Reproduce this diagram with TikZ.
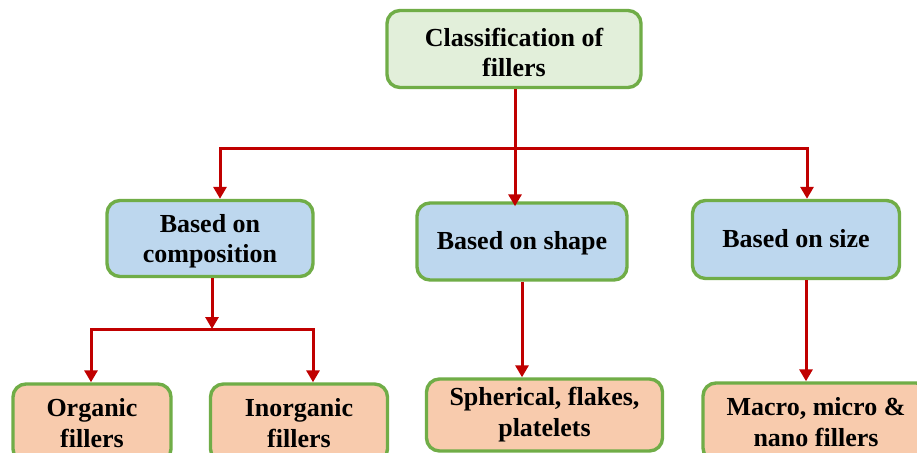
\documentclass[tikz,border=0pt]{standalone}
\usepackage{fontspec}
\setmainfont{Liberation Serif}
\usetikzlibrary{arrows.meta}

\definecolor{boxline}{HTML}{70AD47}
\definecolor{rootfill}{HTML}{E2EFDA}
\definecolor{midfill}{HTML}{BDD7EE}
\definecolor{leaffill}{HTML}{F8CBAD}
\definecolor{linkred}{HTML}{C00000}

% text block lowered inside its box without changing the box size
\newcommand{\droptext}[2]{\raisebox{-#1}[\height][\depth]{\begin{tabular}{@{}c@{}}#2\end{tabular}}}

\tikzset{
  box/.style={draw=boxline, line width=3.4pt, rounded corners=13pt,
    align=center, inner sep=0pt,
    font=\fontsize{26}{31}\selectfont\bfseries},
  rootbox/.style={box, fill=rootfill},
  midbox/.style={box, fill=midfill},
  leafbox/.style={box, fill=leaffill},
  link/.style={draw=linkred, line width=3pt},
  arr/.style={link, -{Triangle[length=12pt,width=13pt]}}
}

\begin{document}
\begin{tikzpicture}[x=1pt, y=-1pt]
  \useasboundingbox (0,0) rectangle (917,452);
  \clip (0,0) rectangle (917,452);
  \fill[white] (0,0) rectangle (917,452);

  % root
  \node[rootbox, minimum width=254pt, minimum height=77pt] (root) at (514,49)
    {\droptext{6pt}{Classification of\\[-1pt]fillers}};

  % second level
  \node[midbox, minimum width=206pt, minimum height=76pt] (comp) at (210,238.5)
    {\droptext{3pt}{Based on\\[-1pt]composition}};
  \node[midbox, minimum width=210pt, minimum height=77pt] (shape) at (522,241.5)
    {\droptext{2pt}{Based on shape}};
  \node[midbox, minimum width=207pt, minimum height=78pt] (size) at (796,239.5)
    {\droptext{2pt}{Based on size}};

  % leaves
  \node[leafbox, minimum width=158pt, minimum height=78pt] (org) at (92,423)
    {Organic\\fillers};
  \node[leafbox, minimum width=177pt, minimum height=78pt] (inorg) at (299,423)
    {Inorganic\\fillers};
  \node[leafbox, minimum width=236pt, minimum height=72pt] (sph) at (544.5,415)
    {Spherical, flakes,\\platelets};
  \node[leafbox, minimum width=226pt, minimum height=78pt] (mac) at (816,422)
    {Macro, micro \&\\nano fillers};

  % branch points
  \coordinate (hub) at (515,148);
  \coordinate (hubL) at (220,148);
  \coordinate (hubR) at (807,148);
  \coordinate (sub) at (212,329);
  \coordinate (subL) at (91,329);
  \coordinate (subR) at (313,329);

  % root to second level
  \draw[link] (root.south -| hub) -- (hub);
  \draw[link, line cap=rect] (hubL) -- (hubR);
  \draw[arr, line cap=rect] (hubL) -- (hubL |- comp.north);
  \draw[arr] (hub) -- ([yshift=-5pt]hub |- shape.north);
  \draw[arr, line cap=rect] (hubR) -- (hubR |- size.north);

  % composition to its leaves
  \draw[arr] (comp.south -| sub) -- (sub);
  \draw[link, line cap=rect] (subL) -- (subR);
  \draw[arr, line cap=rect] (subL) -- (subL |- org.north);
  \draw[arr, line cap=rect] (subR) -- (subR |- inorg.north);

  % shape and size to their leaves
  \draw[arr] (shape.south -| 522,0) -- (sph.north -| 522,0);
  \draw[arr] (size.south -| 806,0) -- (mac.north -| 806,0);
\end{tikzpicture}
\end{document}
